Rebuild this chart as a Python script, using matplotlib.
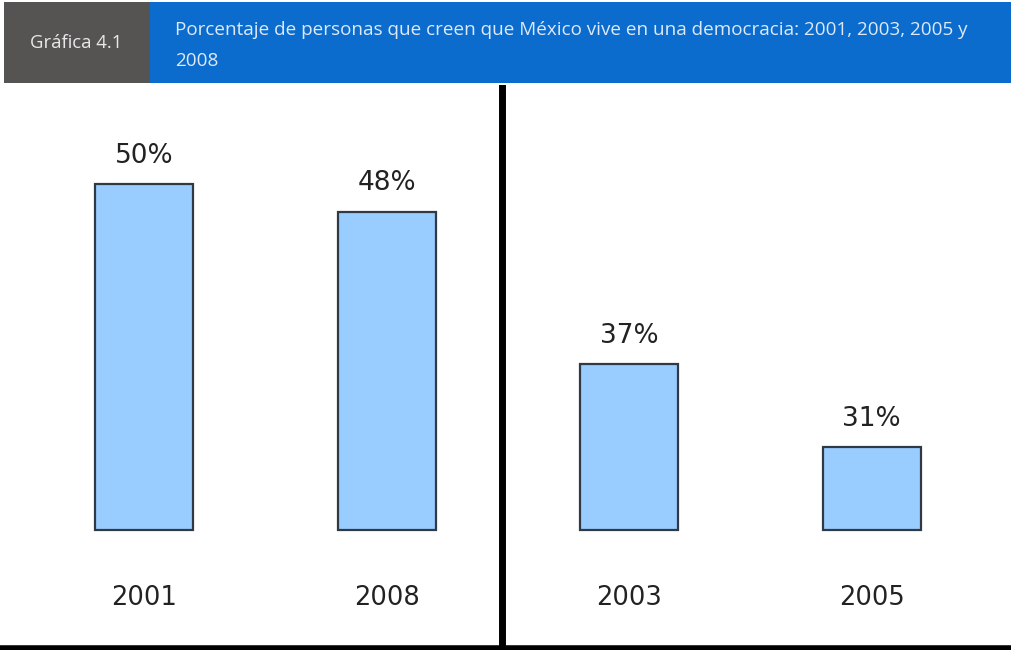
import numpy as np
import matplotlib
matplotlib.use("Agg")
import matplotlib.pyplot as plt
from matplotlib.patches import Rectangle

# data
years = ["2001", "2008", "2003", "2005"]
percent = [50, 48, 37, 31]
base = 25  # bars start from this value in the original

badge = "Gráfica 4.1"
title_lines = ["Porcentaje de personas que creen que México vive en una democracia: 2001, 2003, 2005 y",
               "2008"]

W, H = 1011, 650
fig = plt.figure(figsize=(W / 100, H / 100), dpi=100)
fig.patch.set_facecolor("white")

# header boxes (figure coords)
fig.patches.append(Rectangle((4 / W, 1 - 83 / H), 146 / W, 81 / H,
                             transform=fig.transFigure, facecolor="#565453", edgecolor="none"))
fig.patches.append(Rectangle((150 / W, 1 - 83 / H), (W - 150) / W, 81 / H,
                             transform=fig.transFigure, facecolor="#0b6cce", edgecolor="none"))
fig.text(76 / W, 1 - 43 / H, badge, color="#e8e8e8", fontsize=13.3,
         family="Open Sans", ha="center", va="center")
for i, line in enumerate(title_lines):
    fig.text(175 / W, 1 - (30 + 31 * i) / H, line, color="#dde9f7", fontsize=13.6,
             family="Open Sans", ha="left", va="center")

# bar axes
ax = fig.add_axes([0, 0, 1, (H - 85) / H])
x = np.arange(len(years))
vals = np.array(percent) - base
ax.bar(x, vals, bottom=base, width=0.404, color="#99ccff",
       edgecolor="#2f3a44", linewidth=1.6, zorder=2)

for xi, v in zip(x, percent):
    ax.annotate(f"{v}%", (xi, v), xytext=(0, 11), textcoords="offset points",
                ha="center", va="bottom", fontsize=19, color="#222222")
for xi, y in zip(x, years):
    ax.text(xi, 20.1, y, ha="center", va="center", fontsize=18.5, color="#222222")

ax.axvline(1.478, color="black", linewidth=5, zorder=3)
ax.axhline(16.5, color="black", linewidth=4, zorder=3)

ax.set_xlim(-0.594, 3.575)
ax.set_ylim(16.33, 57.15)
ax.axis("off")

fig.savefig("out.png", dpi=100)
